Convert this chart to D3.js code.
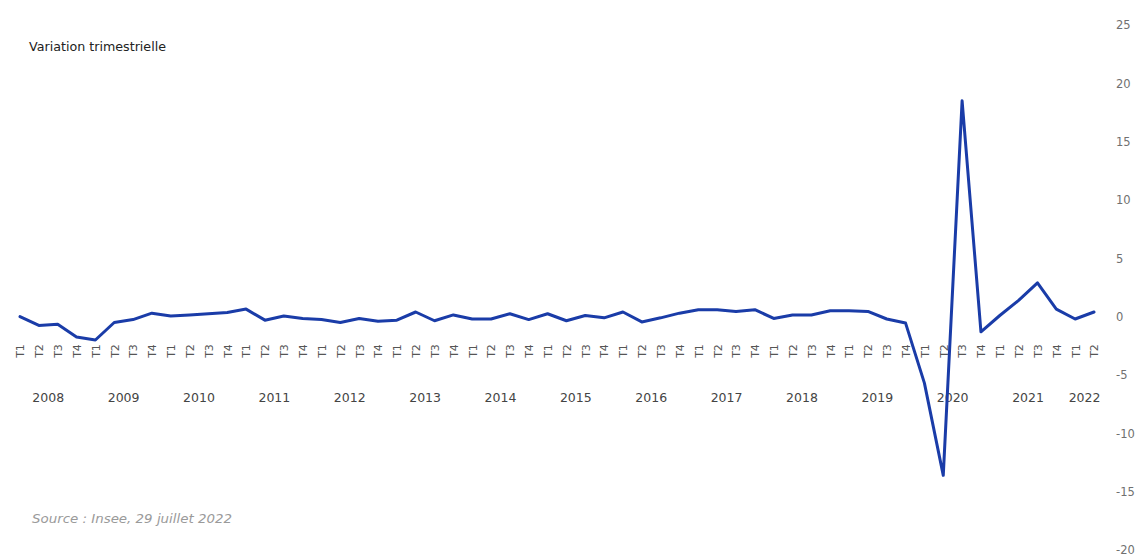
<!DOCTYPE html>
<html>
<head>
<meta charset="utf-8">
<script src="https://cdn.jsdelivr.net/npm/d3@7"></script>
<style>
  html, body { margin: 0; padding: 0; background: #ffffff; }
  svg { display: block; }
</style>
</head>
<body>
<div id="chart"></div>
<script>
// ---- Data ----
const years = ["2008","2009","2010","2011","2012","2013","2014","2015","2016","2017","2018","2019","2020","2021","2022"];
const quarters = ["T1","T2","T3","T4"];
const values = [
  0.0, -0.75, -0.65, -1.75,   // 2008
  -2.0, -0.5, -0.25, 0.3,     // 2009
  0.05, 0.15, 0.25, 0.35,     // 2010
  0.65, -0.3, 0.05, -0.15,    // 2011
  -0.25, -0.5, -0.15, -0.4,   // 2012
  -0.3, 0.4, -0.35, 0.15,     // 2013
  -0.2, -0.2, 0.25, -0.25,    // 2014
  0.25, -0.35, 0.1, -0.1,     // 2015
  0.4, -0.45, -0.1, 0.3,      // 2016
  0.6, 0.6, 0.45, 0.6,        // 2017
  -0.15, 0.15, 0.15, 0.5,     // 2018
  0.5, 0.45, -0.2, -0.55,     // 2019
  -5.7, -13.6, 18.5, -1.3,    // 2020
  0.1, 1.4, 2.9, 0.65,        // 2021
  -0.2, 0.4                   // 2022
];
const yTicks = [25, 20, 15, 10, 5, 0, -5, -10, -15, -20];
const yLabel = "Variation trimestrielle";
const sourceText = "Source : Insee, 29 juillet 2022";

// Build period keys
const periods = [];
years.forEach(y => quarters.forEach(q => periods.push({ year: y, q: q, key: y + "-" + q })));
const data = values.map((v, i) => ({ ...periods[i], value: v }));

// ---- Layout ----
const W = 1142, H = 558;
const svg = d3.select("#chart").append("svg").attr("width", W).attr("height", H);
const font = "'DejaVu Sans', sans-serif";

const x = d3.scalePoint().domain(data.map(d => d.key)).range([20, 1094]);
const y = d3.scaleLinear().domain([-20, 25]).range([550, 25]);

// Right-side value labels (no axis line)
const yAxis = d3.axisRight(y).tickValues(yTicks).tickSize(0).tickPadding(0)
  .tickFormat(d => d3.format("d")(d).replace("−", "-"));
const gy = svg.append("g").attr("transform", "translate(1116,0)").call(yAxis);
gy.select(".domain").remove();
gy.selectAll("text").attr("font-family", font).attr("font-size", 11.5).attr("fill", "#707070").attr("text-anchor", "start");

// Quarter labels (rotated)
const xAxis = d3.axisBottom(x).tickSize(0).tickFormat(k => k.split("-")[1]);
const gx = svg.append("g").attr("transform", "translate(0,351)").call(xAxis);
gx.select(".domain").remove();
gx.selectAll("text")
  .attr("font-family", font).attr("font-size", 11).attr("fill", "#555")
  .attr("y", 0).attr("dy", "0.35em").attr("x", 0)
  .attr("text-anchor", "middle")
  .attr("transform", "rotate(-90)");

// Year labels centred under their quarters
svg.append("g").selectAll("text").data(years).join("text")
  .attr("x", yr => {
    const ks = data.filter(d => d.year === yr).map(d => x(d.key));
    return (d3.min(ks) + d3.max(ks)) / 2;
  })
  .attr("y", 402)
  .attr("text-anchor", "middle")
  .attr("font-family", font).attr("font-size", 12.5).attr("fill", "#444")
  .text(d => d);

// Line
const line = d3.line().x(d => x(d.key)).y(d => y(d.value));
svg.append("path").datum(data)
  .attr("d", line)
  .attr("fill", "none")
  .attr("stroke", "#1a3ca8")
  .attr("stroke-width", 3)
  .attr("stroke-linejoin", "round")
  .attr("stroke-linecap", "round");

// Top-left label
svg.append("text").attr("x", 29).attr("y", 51)
  .attr("font-family", font).attr("font-size", 12.5).attr("fill", "#222")
  .attr("textLength", 137).attr("lengthAdjust", "spacingAndGlyphs")
  .text(yLabel);

// Source
svg.append("text").attr("x", 32).attr("y", 523)
  .attr("font-family", font).attr("font-size", 12.5).attr("font-style", "italic")
  .attr("fill", "#9a9a9a")
  .attr("textLength", 200).attr("lengthAdjust", "spacingAndGlyphs")
  .text(sourceText);
</script>
</body>
</html>
